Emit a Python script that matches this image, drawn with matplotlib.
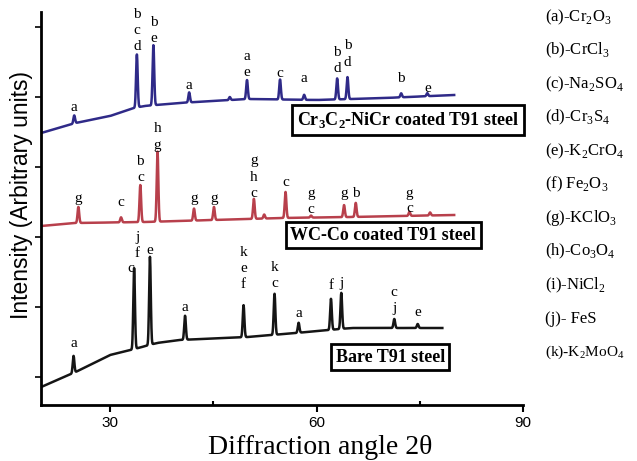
import numpy as np
import matplotlib
matplotlib.use('Agg')
import matplotlib.pyplot as plt

# Datos (2theta en grados, intensidad en unidades arbitrarias)
cr_base_x = [20, 25, 30, 33.5, 35, 40, 50, 60, 70, 80]
cr_base_y = [272, 282, 289, 297, 299, 302, 306, 305, 307, 310]
cr_peak_pos = [24.8, 33.9, 36.3, 41.5, 47.4, 49.9, 54.7, 58.2, 63.0, 64.5, 72.3, 76.1]
cr_peak_h = [8, 53, 60, 10, 3, 19, 20, 5, 21, 22, 4, 3]

wc_base_x = [20, 25, 35, 45, 55, 65, 80]
wc_base_y = [179, 182, 183, 185, 187, 188, 190]
wc_peak_pos = [25.4, 31.6, 34.4, 36.9, 42.2, 45.1, 50.9, 52.4, 55.5, 59.2, 64.0, 65.7, 73.5, 76.5]
wc_peak_h = [16, 5, 37, 70, 12, 13, 20, 4, 26, 2, 12, 14, 4, 3]

bare_base_x = [20, 25, 30, 33, 36.8, 40, 50, 57, 65, 78.3]
bare_base_y = [18, 33, 50, 55, 62, 65, 68, 72, 77, 77]
bare_peak_pos = [24.7, 33.5, 35.8, 40.9, 49.4, 53.9, 57.4, 62.1, 63.6, 71.3, 74.7]
bare_peak_h = [17, 81, 88, 24, 32, 41, 10, 31, 36, 9, 4]

# etiquetas de fases sobre cada pico: (2theta, intensidad, letra)
cr_labels = [(24.8, 298, 'a'), (33.9, 391, 'b'), (33.9, 375, 'c'), (33.9, 359, 'd'),
             (36.3, 383, 'b'), (36.3, 367, 'e'), (41.5, 320, 'a'), (49.9, 349, 'a'),
             (49.9, 333, 'e'), (54.7, 332, 'c'), (58.2, 327, 'a'), (63.0, 353, 'b'),
             (63.0, 337, 'd'), (64.5, 360, 'b'), (64.5, 343, 'd'), (72.3, 327, 'b'),
             (76.1, 317, 'e')]
wc_labels = [(25.4, 207, 'g'), (31.6, 203, 'c'), (34.4, 244, 'b'), (34.4, 228, 'c'),
             (36.9, 277, 'h'), (36.9, 260, 'g'), (42.2, 207, 'g'), (45.1, 207, 'g'),
             (50.9, 245, 'g'), (50.9, 228, 'h'), (50.9, 212, 'c'), (55.5, 223, 'c'),
             (59.2, 212, 'g'), (59.2, 196, 'c'), (64.0, 212, 'g'), (65.7, 212, 'b'),
             (73.5, 212, 'g'), (73.5, 197, 'c')]
bare_labels = [(24.7, 62, 'a'), (33.0, 137, 'c'), (34.0, 152, 'f'), (34.0, 168, 'j'),
               (35.8, 155, 'e'), (40.9, 98, 'a'), (49.4, 153, 'k'), (49.4, 137, 'e'),
               (49.4, 121, 'f'), (53.9, 138, 'k'), (53.9, 122, 'c'), (57.4, 92, 'a'),
               (62.1, 120, 'f'), (63.6, 122, 'j'), (71.3, 113, 'c'), (71.3, 97, 'j'),
               (74.7, 93, 'e')]

leyenda = ['(a)-Cr$_\\mathregular{2}$O$_\\mathregular{3}$',
           '(b)-CrCl$_\\mathregular{3}$',
           '(c)-Na$_\\mathregular{2}$SO$_\\mathregular{4}$',
           '(d)-Cr$_\\mathregular{3}$S$_\\mathregular{4}$',
           '(e)-K$_\\mathregular{2}$CrO$_\\mathregular{4}$',
           '(f) Fe$_\\mathregular{2}$O$_\\mathregular{3}$',
           '(g)-KClO$_\\mathregular{3}$',
           '(h)-Co$_\\mathregular{3}$O$_\\mathregular{4}$',
           '(i)-NiCl$_\\mathregular{2}$',
           '(j)- FeS',
           '(k)-K$_\\mathregular{2}$MoO$_\\mathregular{4}$']


def espectro(x_fin, base_x, base_y, pos, alturas, ancho=0.12):
    x = np.arange(20, x_fin, 0.02)
    y = np.interp(x, base_x, base_y)
    for p, h in zip(pos, alturas):
        y = y + h * np.exp(-0.5 * ((x - p) / ancho) ** 2)
    return x, y


fig = plt.figure(figsize=(6.37, 4.61), dpi=100)
W, H = 637.0, 461.0
ax = fig.add_axes([41.2 / W, 1 - 405 / H, 481.8 / W, 393 / H])

serif = 'Liberation Serif'

x, y = espectro(80.01, cr_base_x, cr_base_y, cr_peak_pos, cr_peak_h)
ax.plot(x, y, color='#2f2a88', lw=1.8)
x, y = espectro(80.01, wc_base_x, wc_base_y, wc_peak_pos, wc_peak_h)
ax.plot(x, y, color='#b8404c', lw=1.8)
x, y = espectro(78.3, bare_base_x, bare_base_y, bare_peak_pos, bare_peak_h)
ax.plot(x, y, color='#151515', lw=1.8)

for etiquetas in (cr_labels, wc_labels, bare_labels):
    for tx, ty, letra in etiquetas:
        ax.text(tx, ty, letra, ha='center', va='center', family=serif, fontsize=11)

caja = dict(boxstyle='square,pad=0.25', fc='white', ec='black', lw=2)
ax.text(73.3, 285, 'Cr$_\\mathregular{3}$C$_\\mathregular{2}$-NiCr coated T91 steel',
        ha='center', va='center', family=serif, fontsize=13, fontweight='bold', bbox=caja)
ax.text(69.7, 170, 'WC-Co coated T91 steel',
        ha='center', va='center', family=serif, fontsize=13, fontweight='bold', bbox=caja)
ax.text(70.7, 48, 'Bare T91 steel',
        ha='center', va='center', family=serif, fontsize=13, fontweight='bold', bbox=caja)

ax.set_xlim(20, 90)
ax.set_ylim(0, 393)
ax.set_xticks([30, 60, 90])
ax.set_xticks([45, 75], minor=True)
ax.set_yticks([28, 98, 168, 238, 308, 378])
ax.set_yticklabels([])
ax.tick_params(axis='x', which='major', direction='out', length=5, width=1.5,
               labelsize=11, pad=3)
ax.tick_params(axis='x', which='minor', direction='in', length=3, width=1.5)
ax.tick_params(axis='y', direction='out', length=4, width=1.2)
for lab in ax.get_xticklabels():
    lab.set_family('Liberation Sans')
for lado in ['top', 'right']:
    ax.spines[lado].set_visible(False)
for lado in ['left', 'bottom']:
    ax.spines[lado].set_linewidth(2)

fig.text(22 / W, 1 - 195 / H, 'Intensity (Arbitrary units)', rotation=90,
         ha='center', va='center', family='Liberation Sans', fontsize=16.5)
fig.text(320 / W, 1 - 447 / H, 'Diffraction angle 2\u03b8', ha='center', va='center',
         family=serif, fontsize=20)

for i, texto in enumerate(leyenda):
    py = 17 + i * 33.5
    fig.text(545 / W, 1 - py / H, texto, ha='left', va='center', family=serif,
             fontsize=12 if i < 10 else 11)

fig.savefig('out.png', dpi=100)
